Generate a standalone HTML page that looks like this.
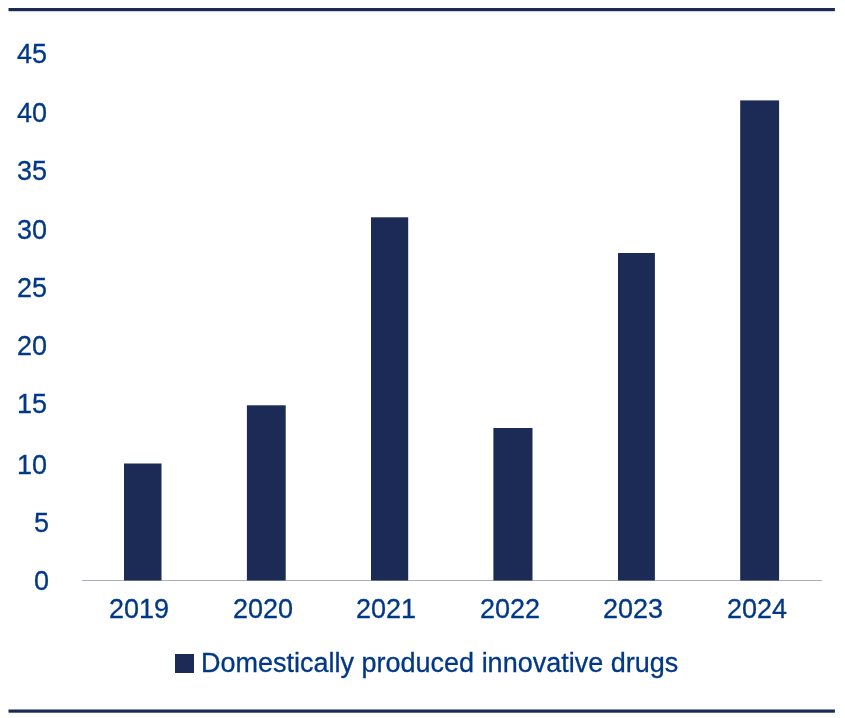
<!DOCTYPE html>
<html><head><meta charset="utf-8">
<style>
html,body{margin:0;padding:0;background:#fff;}
body{width:845px;height:718px;position:relative;overflow:hidden;font-family:"Liberation Sans",sans-serif;}
svg{position:absolute;left:0;top:0;}
.yl,.xl,.legt{position:absolute;font-size:27px;line-height:27px;color:#003887;white-space:nowrap;will-change:transform;-webkit-text-stroke:0.3px #003887;}
.yl{right:798px;text-align:right;}
</style></head><body>
<svg width="845" height="718" viewBox="0 0 845 718">
<rect x="8.5" y="8" width="826.4" height="3.2" fill="#1a2a56"/>
<rect x="8.5" y="709.5" width="826.4" height="3.2" fill="#1a2a56"/>
<rect x="82" y="580" width="740" height="1" fill="#a9afc0"/>
<g fill="#1b2b55">
<rect x="124.0" y="463.5" width="37.5" height="117"/>
<rect x="246.9" y="405.3" width="38.8" height="175.2"/>
<rect x="371.0" y="217.3" width="37.2" height="363.2"/>
<rect x="493.4" y="428.0" width="39.1" height="152.5"/>
<rect x="618.0" y="253.0" width="36.9" height="327.5"/>
<rect x="740.2" y="100.4" width="38.9" height="480.1"/>
<rect x="175" y="654" width="19" height="19"/>
</g>
</svg>

<div class="yl" style="top:41px">45</div>
<div class="yl" style="top:100px">40</div>
<div class="yl" style="top:158px">35</div>
<div class="yl" style="top:217px">30</div>
<div class="yl" style="top:275px">25</div>
<div class="yl" style="top:333px">20</div>
<div class="yl" style="top:391px">15</div>
<div class="yl" style="top:452px">10</div>
<div class="yl" style="top:510px;right:796px">5</div>
<div class="yl" style="top:568px;right:796px">0</div>

<div class="xl" style="left:109px;top:596px">2019</div>
<div class="xl" style="left:233px;top:596px">2020</div>
<div class="xl" style="left:356px;top:596px">2021</div>
<div class="xl" style="left:480px;top:596px">2022</div>
<div class="xl" style="left:603px;top:596px">2023</div>
<div class="xl" style="left:727px;top:596px">2024</div>

<div class="legt" style="left:201px;top:650px">Domestically produced innovative drugs</div>
</body></html>
